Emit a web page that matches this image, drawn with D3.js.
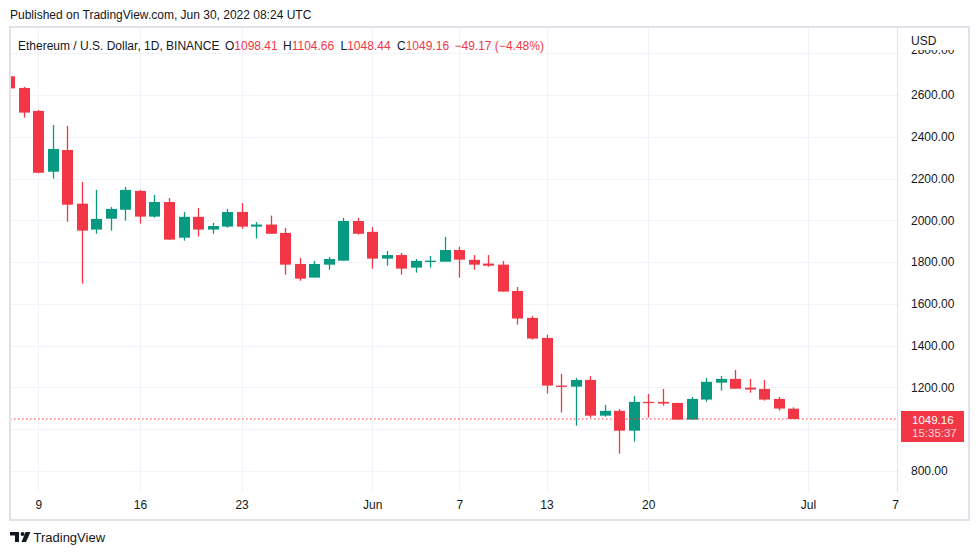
<!DOCTYPE html>
<html>
<head>
<meta charset="utf-8">
<script src="https://cdnjs.cloudflare.com/ajax/libs/d3/7.8.5/d3.min.js"></script>
<style>
  html, body { margin: 0; padding: 0; background: #fff; }
  svg { display: block; font-family: "Liberation Sans", Arial, sans-serif; }
</style>
</head>
<body>
<svg id="chart" width="979" height="555"></svg>
<script>
// daily ETH/USD candles, BINANCE, May 7 - Jun 30 2022
var days = ["2022-05-07","2022-05-08","2022-05-09","2022-05-10","2022-05-11","2022-05-12","2022-05-13",
  "2022-05-14","2022-05-15","2022-05-16","2022-05-17","2022-05-18","2022-05-19","2022-05-20",
  "2022-05-21","2022-05-22","2022-05-23","2022-05-24","2022-05-25","2022-05-26","2022-05-27",
  "2022-05-28","2022-05-29","2022-05-30","2022-05-31","2022-06-01","2022-06-02","2022-06-03",
  "2022-06-04","2022-06-05","2022-06-06","2022-06-07","2022-06-08","2022-06-09","2022-06-10",
  "2022-06-11","2022-06-12","2022-06-13","2022-06-14","2022-06-15","2022-06-16","2022-06-17",
  "2022-06-18","2022-06-19","2022-06-20","2022-06-21","2022-06-22","2022-06-23","2022-06-24",
  "2022-06-25","2022-06-26","2022-06-27","2022-06-28","2022-06-29","2022-06-30"];
var opens = [2690, 2634, 2524, 2233, 2337, 2080, 1956,
  2008, 2051, 2141, 2018, 2088, 1917, 2017,
  1956, 1970, 2040, 1970, 1980, 1940, 1791,
  1726, 1788, 1807, 1997, 1945, 1817, 1834,
  1774, 1802, 1802, 1858, 1811, 1793, 1788,
  1662, 1533, 1437, 1209, 1204, 1236, 1065,
  1088, 993, 1131, 1131, 1126, 1046, 1142,
  1223, 1241, 1199, 1193, 1145, 1098.41];
var highs = [2695, 2639, 2529, 2457, 2452, 2184, 2146,
  2064, 2160, 2146, 2122, 2107, 2040, 2060,
  1988, 2055, 2083, 1992, 2023, 1964, 1820,
  1806, 1825, 2012, 2012, 1968, 1854, 1844,
  1815, 1830, 1921, 1873, 1834, 1834, 1806,
  1681, 1542, 1452, 1265, 1246, 1255, 1116,
  1097, 1160, 1169, 1193, 1126, 1155, 1246,
  1255, 1284, 1241, 1236, 1155, 1104.66];
var lows = [2628, 2492, 2226, 2200, 1994, 1697, 1936,
  1951, 1999, 1984, 2013, 1906, 1903, 1922,
  1936, 1965, 1960, 1913, 1936, 1740, 1711,
  1726, 1764, 1807, 1932, 1769, 1783, 1740,
  1750, 1774, 1802, 1726, 1764, 1778, 1659,
  1501, 1429, 1171, 1080, 1017, 1056, 1060,
  883, 941, 1056, 1113, 1046, 1046, 1132,
  1185, 1194, 1175, 1137, 1089, 1048.44];
var closes = [2632, 2516, 2228, 2342, 2075, 1951, 2007,
  2055, 2146, 2018, 2088, 1908, 2017, 1956,
  1973, 2040, 1970, 1980, 1936, 1788, 1721,
  1791, 1815, 1997, 1936, 1817, 1834, 1769,
  1806, 1807, 1858, 1812, 1788, 1783, 1659,
  1530, 1434, 1209, 1204, 1236, 1065, 1088,
  993, 1131, 1126, 1123, 1046, 1145, 1227,
  1241, 1194, 1190, 1142, 1099, 1049.16];

var priceTicks = [800, 1000, 1200, 1400, 1600, 1800, 2000, 2200, 2400, 2600, 2800];
var timeTicks = ["2022-05-09","2022-05-16","2022-05-23","2022-06-01","2022-06-07",
  "2022-06-13","2022-06-20","2022-07-01","2022-07-07"];
var timeLabels = ["9","16","23","Jun","7","13","20","Jul","7"];

var RED = "#f23645", GREEN = "#089981", TEXT = "#131722";
var GRID = "#f0f3fa", BORDER = "#e0e3eb";
var FS = 12;

var frame = {left: 10, top: 27, right: 969, bottom: 520};
var plotRight = 897, plotBottom = 492;

var svg = d3.select("#chart");
var parse = d3.utcParse("%Y-%m-%d");

var candles = days.map(function(d, i) {
  return {date: parse(d), o: opens[i], h: highs[i], l: lows[i], c: closes[i]};
});
var last = candles[candles.length - 1];

var x = d3.scaleUtc()
  .domain([parse("2022-05-09"), parse("2022-07-07")])
  .range([38.3, 895]);
var y = d3.scaleLinear()
  .domain([800, 2800])
  .range([471, 53.3]);

var bodyW = 11;

// header
svg.append("text")
  .attr("x", 10).attr("y", 19)
  .attr("font-size", FS).attr("fill", TEXT)
  .text("Published on TradingView.com, Jun 30, 2022 08:24 UTC");

var defs = svg.append("defs");
defs.append("clipPath").attr("id", "plotClip")
  .append("rect")
  .attr("x", frame.left + 1).attr("y", frame.top)
  .attr("width", plotRight - frame.left - 1).attr("height", plotBottom - frame.top);
// price labels are cut below the USD header
defs.append("clipPath").attr("id", "axisClip")
  .append("rect")
  .attr("x", plotRight + 1).attr("y", 50)
  .attr("width", frame.right - plotRight - 2).attr("height", plotBottom - 50);

// grid
var grid = svg.append("g");
grid.selectAll("line.h").data(priceTicks).enter().append("line")
  .attr("x1", frame.left).attr("x2", 900)
  .attr("y1", function(d) { return Math.round(y(d)) + 0.5; })
  .attr("y2", function(d) { return Math.round(y(d)) + 0.5; })
  .attr("stroke", GRID).attr("stroke-width", 1);
grid.selectAll("line.v").data(timeTicks.slice(0, 8)).enter().append("line")
  .attr("x1", function(d) { return Math.round(x(parse(d))) + 0.5; })
  .attr("x2", function(d) { return Math.round(x(parse(d))) + 0.5; })
  .attr("y1", frame.top).attr("y2", plotBottom)
  .attr("stroke", GRID).attr("stroke-width", 1);

// candles
var plot = svg.append("g").attr("clip-path", "url(#plotClip)");
var cg = plot.selectAll("g.candle").data(candles).enter().append("g");
cg.append("line")
  .attr("x1", function(d) { return Math.round(x(d.date)) + 0.5; })
  .attr("x2", function(d) { return Math.round(x(d.date)) + 0.5; })
  .attr("y1", function(d) { return y(d.h); })
  .attr("y2", function(d) { return y(d.l); })
  .attr("stroke", function(d) { return d.c >= d.o ? GREEN : RED; })
  .attr("stroke-width", 1.3);
cg.append("rect")
  .attr("x", function(d) { return Math.round(x(d.date)) + 0.5 - bodyW / 2; })
  .attr("width", bodyW)
  .attr("y", function(d) { return y(Math.max(d.o, d.c)); })
  .attr("height", function(d) { return Math.max(1.3, Math.abs(y(d.o) - y(d.c))); })
  .attr("fill", function(d) { return d.c >= d.o ? GREEN : RED; });

// last price dotted line
svg.append("line")
  .attr("x1", frame.left).attr("x2", plotRight)
  .attr("y1", y(last.c)).attr("y2", y(last.c))
  .attr("stroke", RED).attr("stroke-width", 1)
  .attr("stroke-dasharray", "1.5,2.5");

// price axis - labels hidden under the last price box are dropped
var boxTop = 411, boxBottom = 442;
var labelTicks = priceTicks.filter(function(d) {
  return y(d) < boxTop - 6 || y(d) > boxBottom + 6;
});
var yAxis = d3.axisRight(y).tickValues(labelTicks).tickFormat(d3.format(".2f")).tickSize(0).tickPadding(0);
var ya = svg.append("g").attr("clip-path", "url(#axisClip)")
  .append("g").attr("transform", "translate(911,0)").call(yAxis);
ya.select(".domain").remove();
ya.selectAll("text").attr("font-size", FS).attr("fill", TEXT)
  .attr("font-family", "Liberation Sans, Arial, sans-serif");
// top label sits half under the USD header
ya.selectAll(".tick").filter(function(d) { return d === 2800; })
  .select("text").attr("dy", "0.05em");

svg.append("text").attr("x", 911).attr("y", 45)
  .attr("font-size", FS).attr("fill", TEXT).text("USD");

// last price label
svg.append("rect").attr("x", 901).attr("y", boxTop)
  .attr("width", 63).attr("height", boxBottom - boxTop).attr("fill", RED);
svg.append("text").attr("x", 912).attr("y", 423.5)
  .attr("font-size", 11.5).attr("fill", "#fff").text(d3.format(".2f")(last.c));
svg.append("text").attr("x", 912).attr("y", 437)
  .attr("font-size", 11.5).attr("fill", "#fff").attr("fill-opacity", 0.8).text("15:35:37");

// time axis
var xAxis = d3.axisBottom(x)
  .tickValues(timeTicks.map(parse))
  .tickFormat(function(d, i) { return timeLabels[i]; })
  .tickSize(0).tickPadding(0);
var xa = svg.append("g").attr("transform", "translate(0,500)").call(xAxis);
xa.select(".domain").remove();
xa.selectAll("text").attr("font-size", FS).attr("fill", TEXT)
  .attr("font-family", "Liberation Sans, Arial, sans-serif");

// frame and axis separator
svg.append("line").attr("x1", plotRight + 0.5).attr("x2", plotRight + 0.5)
  .attr("y1", frame.top).attr("y2", plotBottom)
  .attr("stroke", BORDER).attr("stroke-width", 1);
svg.append("rect")
  .attr("x", frame.left).attr("y", frame.top)
  .attr("width", frame.right - frame.left).attr("height", frame.bottom - frame.top)
  .attr("fill", "none").attr("stroke", BORDER).attr("stroke-width", 2);

// legend
svg.append("text").attr("x", 18).attr("y", 50).attr("font-size", FS).attr("fill", TEXT)
  .text("Ethereum / U.S. Dollar, 1D, BINANCE");
var ohlc = [["O", last.o], ["H", last.h], ["L", last.l], ["C", last.c]];
var lx = [225, 283, 340.5, 397];
ohlc.forEach(function(p, i) {
  svg.append("text").attr("x", lx[i]).attr("y", 50).attr("font-size", FS)
    .call(function(t) {
      t.append("tspan").attr("fill", TEXT).text(p[0]);
      t.append("tspan").attr("fill", RED).text(d3.format(".2f")(p[1]));
    });
});
svg.append("text").attr("x", 454.5).attr("y", 50).attr("font-size", FS).attr("fill", RED)
  .text("\u221249.17 (\u22124.48%)");

// footer logo
var logo = svg.append("g").attr("fill", TEXT);
logo.append("path").attr("d", "M10,532 H19 V542 H15 V535.5 H10 Z");
logo.append("circle").attr("cx", 22.5).attr("cy", 534).attr("r", 2);
logo.append("path").attr("d", "M25.5,532 H30.5 L26,542 H21.5 Z");
svg.append("text").attr("x", 33.5).attr("y", 542)
  .attr("font-size", 13).attr("fill", TEXT).text("TradingView");
</script>
</body>
</html>
